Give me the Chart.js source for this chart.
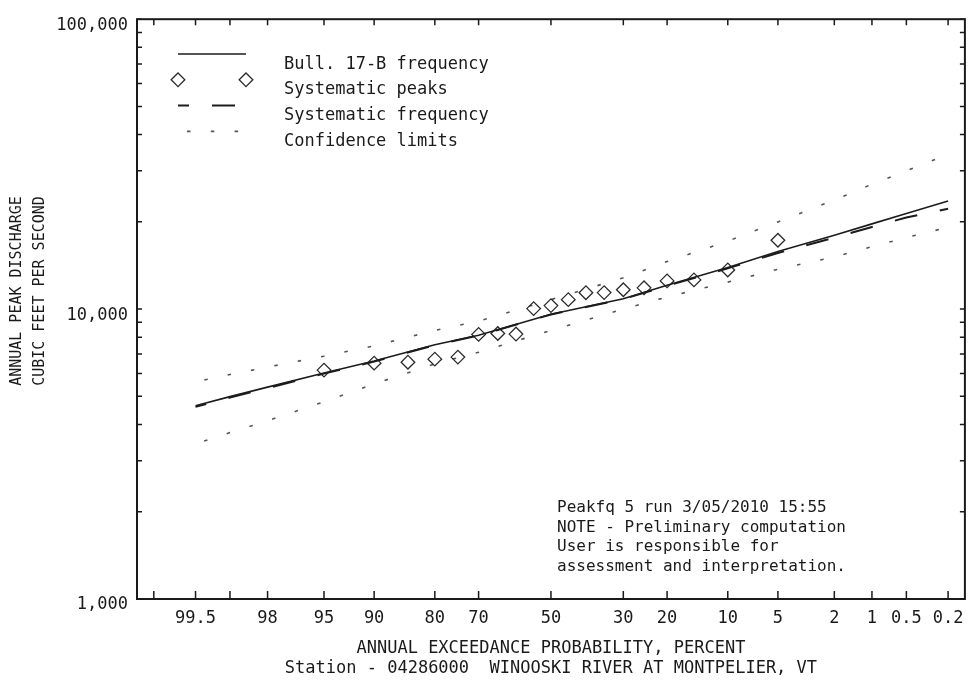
<!DOCTYPE html>
<html>
<head>
<meta charset="utf-8">
<title>Peak flow frequency - Winooski River at Montpelier, VT</title>
<script src="https://cdn.jsdelivr.net/npm/chart.js@4.4.1/dist/chart.umd.min.js"></script>
<style>
  html, body { margin: 0; padding: 0; background: #fff; }
  canvas { display: block; }
</style>
</head>
<body>
<canvas id="graph" width="973" height="686"></canvas>
<script>
// annual exceedance probability (percent) where the fitted curves were read
var curveProbs = [99.5, 99, 98, 95, 90, 80, 70, 50, 30, 20, 10, 5, 2, 1, 0.5, 0.2];
var bull17bFlow = [4640, 4990, 5380, 6020, 6620, 7530, 8130, 9600, 10860, 12080, 13920, 15790, 17970, 19680, 21370, 23590];
var systematicFlow = [4600, 4950, 5340, 5990, 6590, 7510, 8110, 9580, 10830, 12030, 13820, 15610, 17650, 19200, 20700, 22200];
var upperLimitFlow = [5610, 5950, 6310, 6880, 7470, 8440, 9090, 10780, 12820, 14590, 17150, 19990, 23770, 26970, 29990, 34150];
var lowerLimitFlow = [3430, 3750, 4120, 4790, 5520, 6470, 7100, 8440, 10000, 11010, 12390, 13720, 15140, 16420, 17650, 19160];

// systematic peaks: plotting position (percent) and discharge
var peakProbs = [95, 90, 85, 80, 75, 70, 65, 60, 55, 50, 45, 40, 35, 30, 25, 20, 15, 10, 5];
var peakFlow = [6160, 6510, 6560, 6720, 6830, 8180, 8240, 8200, 10040, 10280, 10780, 11390, 11400, 11660, 11840, 12510, 12610, 13650, 17280];

var xTickProbs = [99.8, 99.5, 99, 98, 95, 90, 80, 70, 50, 30, 20, 10, 5, 2, 1, 0.5, 0.2];
var xTickLabels = ['', '99.5', '', '98', '95', '90', '80', '70', '50', '30', '20', '10', '5', '2', '1', '0.5', '0.2'];
var xRange = [99.865, 0.135];
var yDecades = [1000, 10000, 100000];
var yTickLabels = { 1000: '1,000', 10000: '10,000', 100000: '100,000' };

var noteLines = [
    'Peakfq 5 run 3/05/2010 15:55',
    'NOTE - Preliminary computation',
    'User is responsible for',
    'assessment and interpretation.'
];

// inverse standard normal (Acklam)
function normInv(p) {
    var a = [-3.969683028665376e+01, 2.209460984245205e+02, -2.759285104469687e+02, 1.383577518672690e+02, -3.066479806614716e+01, 2.506628277459239e+00];
    var b = [-5.447609879822406e+01, 1.615858368580409e+02, -1.556989798598866e+02, 6.680131188771972e+01, -1.328068155288572e+01];
    var c = [-7.784894002430293e-03, -3.223964580411365e-01, -2.400758277161838e+00, -2.549671324230869e+00, 4.374664141464968e+00, 2.938163982698783e+00];
    var d = [7.784695709041462e-03, 3.224671290700398e-01, 2.445134137142996e+00, 3.754408661907416e+00];
    var q, r;
    if (p < 0.02425) {
        q = Math.sqrt(-2 * Math.log(p));
        return (((((c[0] * q + c[1]) * q + c[2]) * q + c[3]) * q + c[4]) * q + c[5]) / ((((d[0] * q + d[1]) * q + d[2]) * q + d[3]) * q + 1);
    }
    if (p > 1 - 0.02425) {
        q = Math.sqrt(-2 * Math.log(1 - p));
        return -(((((c[0] * q + c[1]) * q + c[2]) * q + c[3]) * q + c[4]) * q + c[5]) / ((((d[0] * q + d[1]) * q + d[2]) * q + d[3]) * q + 1);
    }
    q = p - 0.5;
    r = q * q;
    return (((((a[0] * r + a[1]) * r + a[2]) * r + a[3]) * r + a[4]) * r + a[5]) * q / (((((b[0] * r + b[1]) * r + b[2]) * r + b[3]) * r + b[4]) * r + 1);
}

// normal probability axis: values are exceedance percent
class ProbabilityScale extends Chart.LinearScale {
    parse(raw, index) {
        var v = super.parse(raw, index);
        return v === null ? null : normInv(1 - v / 100);
    }
}
ProbabilityScale.id = 'probability';
ProbabilityScale.defaults = Chart.LinearScale.defaults;
Chart.register(ProbabilityScale);

function pairs(xs, ys) {
    return xs.map(function (x, i) { return { x: x, y: ys[i] }; });
}

var yTickValues = [];
yDecades.forEach(function (dec, i) {
    if (i === yDecades.length - 1) { yTickValues.push(dec); return; }
    for (var m = 1; m <= 9; m++) yTickValues.push(m * dec);
});

var ink = '#1a1a1a';

var framePlugin = {
    id: 'frame',
    afterDraw: function (chart) {
        var ctx = chart.ctx, a = chart.chartArea;
        var xs = chart.scales.x, ys = chart.scales.y;
        ctx.save();
        ctx.strokeStyle = ink;
        ctx.lineWidth = 2;
        ctx.strokeRect(a.left, a.top, a.right - a.left, a.bottom - a.top);
        ctx.lineWidth = 1.5;
        ctx.beginPath();
        xs.ticks.forEach(function (t) {
            var px = xs.getPixelForValue(t.value);
            ctx.moveTo(px, a.bottom); ctx.lineTo(px, a.bottom - 8);
            ctx.moveTo(px, a.top); ctx.lineTo(px, a.top + 6);
        });
        ys.ticks.forEach(function (t) {
            var py = ys.getPixelForValue(t.value);
            ctx.moveTo(a.left, py); ctx.lineTo(a.left + 5, py);
            ctx.moveTo(a.right, py); ctx.lineTo(a.right - 5, py);
        });
        ctx.stroke();

        // note block
        ctx.fillStyle = ink;
        ctx.font = '16px "DejaVu Sans Mono", monospace';
        ctx.textBaseline = 'middle';
        noteLines.forEach(function (s, i) {
            ctx.fillText(s, a.left + 420, 508 + i * 19.6);
        });

        // legend
        var x0 = a.left + 41, x1 = a.left + 109, tx = a.left + 147;
        ctx.font = '17px "DejaVu Sans Mono", monospace';
        ctx.textBaseline = 'alphabetic';
        var row = 0;
        chart.data.datasets.forEach(function (ds) {
            if (ds.inLegend === false) return;
            var sy = 54 + row * 25.8;
            ctx.save();
            ctx.strokeStyle = ds.borderColor;
            ctx.fillStyle = 'rgba(0,0,0,0)';
            if (ds.showLine === false) {
                ctx.lineWidth = ds.pointBorderWidth;
                [x0, x1].forEach(function (cx) {
                    Chart.helpers.drawPoint(ctx, { pointStyle: 'rectRot', radius: ds.pointRadius, borderWidth: ds.pointBorderWidth }, cx, sy);
                });
            } else {
                ctx.lineWidth = ds.borderWidth;
                ctx.setLineDash(ds.borderDash || []);
                ctx.lineDashOffset = ds.borderDashOffset || 0;
                ctx.beginPath();
                ctx.moveTo(x0, sy);
                ctx.lineTo(x1, sy);
                ctx.stroke();
            }
            ctx.restore();
            ctx.fillStyle = ink;
            ctx.fillText(ds.label, tx, sy + 14.5);
            row++;
        });
        ctx.restore();
    }
};

Chart.defaults.color = ink;
Chart.defaults.font.family = '"DejaVu Sans Mono", monospace';

var ctx = document.getElementById('graph').getContext('2d');
var graph = new Chart(ctx, {
    type: 'scatter',
    data: {
        datasets: [
            {
                label: 'Bull. 17-B frequency',
                data: pairs(curveProbs, bull17bFlow),
                showLine: true,
                pointRadius: 0,
                borderColor: '#1c1c1c',
                borderWidth: 1.6
            },
            {
                label: 'Systematic peaks',
                data: pairs(peakProbs, peakFlow),
                showLine: false,
                pointStyle: 'rectRot',
                pointRadius: 6.8,
                pointBorderWidth: 1.3,
                borderColor: '#2a2a2a',
                backgroundColor: 'rgba(0,0,0,0)'
            },
            {
                label: 'Systematic frequency',
                data: pairs(curveProbs, systematicFlow),
                showLine: true,
                pointRadius: 0,
                borderColor: '#1c1c1c',
                borderWidth: 2,
                borderDash: [23, 23],
                borderDashOffset: 12
            },
            {
                label: 'Confidence limits',
                data: pairs(curveProbs, upperLimitFlow),
                showLine: true,
                pointRadius: 0,
                borderColor: '#555',
                borderWidth: 1.6,
                borderDash: [3.5, 20.3],
                borderDashOffset: 14.8
            },
            {
                label: 'Confidence limits',
                inLegend: false,
                data: pairs(curveProbs, lowerLimitFlow),
                showLine: true,
                pointRadius: 0,
                borderColor: '#555',
                borderWidth: 1.6,
                borderDash: [3.5, 20.3],
                borderDashOffset: 14.8
            }
        ]
    },
    options: {
        responsive: false,
        animation: false,
        layout: { padding: { left: 0, right: 4, top: 14, bottom: 0 } },
        plugins: {
            legend: { display: false },
            tooltip: { enabled: false }
        },
        scales: {
            x: {
                type: 'probability',
                afterDataLimits: function (scale) {
                    scale.min = scale.parse(xRange[0]);
                    scale.max = scale.parse(xRange[1]);
                },
                afterBuildTicks: function (scale) {
                    scale.ticks = xTickProbs.map(function (p) { return { value: scale.parse(p) }; });
                },
                afterFit: function (scale) { scale.height = 87; },
                ticks: {
                    autoSkip: false,
                    maxRotation: 0,
                    padding: 9,
                    font: { size: 17 },
                    callback: function (v, i) { return xTickLabels[i]; }
                },
                grid: { display: false, drawTicks: false },
                border: { display: false },
                title: {
                    display: true,
                    text: ['ANNUAL EXCEEDANCE PROBABILITY, PERCENT', 'Station - 04286000  WINOOSKI RIVER AT MONTPELIER, VT'],
                    font: { size: 17, lineHeight: 1.18 },
                    padding: { top: 0, bottom: 7 }
                }
            },
            y: {
                type: 'logarithmic',
                min: 1000,
                max: 100000,
                afterBuildTicks: function (scale) {
                    scale.ticks = yTickValues.map(function (v) { return { value: v }; });
                },
                afterFit: function (scale) { scale.width = 137; },
                ticks: {
                    autoSkip: false,
                    padding: 9,
                    labelOffset: 6,
                    font: { size: 17 },
                    callback: function (v) { return yTickLabels[v] || ''; }
                },
                grid: { display: false, drawTicks: false },
                border: { display: false },
                title: {
                    display: true,
                    text: ['    ANNUAL PEAK DISCHARGE', '    CUBIC FEET PER SECOND'],
                    font: { size: 15, lineHeight: 1.55 },
                    padding: { top: 5, bottom: 0 }
                }
            }
        }
    },
    plugins: [framePlugin]
});
</script>
</body>
</html>
